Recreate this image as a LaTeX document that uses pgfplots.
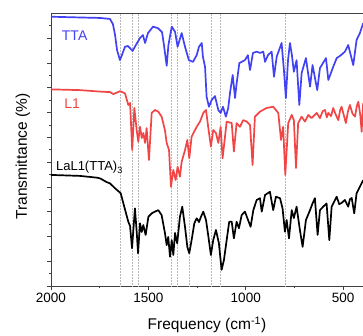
\documentclass[border=0pt]{standalone}
\usepackage{pgfplots}
\pgfplotsset{compat=1.18}
\usepackage{fontspec}
\setmainfont{Liberation Sans}
\definecolor{ttablue}{RGB}{66,66,245}
\definecolor{lred}{RGB}{242,70,70}
\begin{document}
\begin{tikzpicture}
\begin{axis}[
  scale only axis, width=312pt, height=273pt,
  x dir=reverse, xmin=398, xmax=2000, ymin=0, ymax=11.01,
  axis x line*=box, axis y line*=left,
  x axis line style={-, black!75}, y axis line style={-, black!75},
  xtick={2000,1500,1000,500}, minor xtick={1750,1250,750},
  ytick={0,1,...,10}, minor ytick={0.5,1.5,...,10.5},
  yticklabels={},
  xtick pos=bottom, ytick pos=left,
  tick align=outside,
  major tick length=3.5pt, minor tick length=2pt,
  every tick/.style={black!75, line width=0.6pt},
  /pgf/number format/assume math mode=true,
  /pgf/number format/1000 sep={},
  ticklabel style={font=\fontsize{13.5}{16}\selectfont},
  xlabel={Frequency (cm\textsuperscript{-1})},
  ylabel={Transmittance (\%)},
  xlabel style={font=\fontsize{15.5}{18}\selectfont, at={(axis description cs:0.5,-0.161)}, anchor=base},
  ylabel style={font=\fontsize{15.5}{18}\selectfont, at={(axis description cs:-0.077,0.474)}, anchor=base},
  clip=true,
]
% dotted guide lines
\addplot[ycomb, no marks, gray!55, line width=0.5pt, densely dotted] coordinates {
(1646,11.01) (1581,11.01) (1552,11.01) (1380,11.01) (1350,11.01) (1292,11.01) (1177,11.01) (1130,11.01) (795,11.01)};
% TTA
\addplot[ttablue, line width=1.7pt, no marks, line join=round] coordinates {
(2000,10.86) (1851,10.83) (1748,10.81) (1697,10.77) (1682,10.56) (1671,10.12) (1661,9.52) (1646,9.11) (1636,9.31) (1620,9.65) (1605,9.68) (1581,9.48) (1564,9.72) (1543,10.00) (1528,10.12) (1517,9.80) (1502,10.20) (1476,10.46) (1451,10.40) (1430,10.24) (1420,9.72) (1406,8.88) (1397,9.72) (1380,10.46) (1363,10.25) (1350,9.65) (1329,10.20) (1312,9.65) (1292,9.11) (1271,9.04) (1252,9.31) (1240,9.65) (1226,9.80) (1220,9.25) (1209,8.84) (1201,7.63) (1189,7.23) (1175,7.50) (1158,7.66) (1141,7.10) (1129,6.98) (1117,7.23) (1102,6.83) (1090,7.18) (1081,7.78) (1067,8.51) (1055,7.58) (1048,8.10) (1033,8.99) (1004,9.11) (989,9.31) (978,8.71) (963,9.40) (944,9.45) (927,9.40) (910,9.45) (901,9.04) (886,9.31) (867,9.45) (855,8.44) (841,9.25) (816,9.80) (804,8.71) (794,7.58) (783,9.11) (773,9.80) (763,9.31) (753,8.64) (739,9.11) (725,7.30) (713,8.59) (691,9.19) (670,8.04) (657,8.91) (633,7.90) (619,8.79) (588,9.19) (576,8.31) (551,8.84) (533,9.19) (511,9.31) (491,9.45) (474,9.72) (448,8.91) (431,9.92) (414,10.20) (397,10.60)};
% L1
\addplot[lred, line width=1.7pt, no marks, line join=round] coordinates {
(2000,7.93) (1851,7.90) (1748,7.84) (1697,7.82) (1680,7.74) (1656,7.82) (1646,7.86) (1620,7.77) (1603,7.30) (1594,7.38) (1583,5.48) (1572,7.18) (1560,6.29) (1552,5.82) (1543,6.42) (1534,5.97) (1526,6.17) (1517,5.77) (1509,6.37) (1497,5.08) (1483,6.98) (1466,7.10) (1449,7.03) (1432,6.83) (1415,6.29) (1406,5.77) (1394,5.48) (1384,4.00) (1372,4.68) (1360,4.27) (1350,4.81) (1338,4.41) (1329,5.01) (1312,5.48) (1300,5.89) (1290,5.15) (1278,6.02) (1252,6.42) (1235,6.63) (1218,6.98) (1204,7.10) (1193,6.42) (1179,5.62) (1167,6.29) (1153,6.17) (1141,5.77) (1129,6.42) (1119,5.15) (1098,6.63) (1072,6.57) (1061,5.42) (1047,6.57) (1030,6.42) (1013,6.69) (995,6.63) (978,6.49) (965,4.88) (953,6.83) (927,7.03) (893,7.18) (859,7.23) (833,6.98) (819,5.89) (808,6.42) (797,4.48) (782,6.57) (764,6.90) (753,6.69) (742,4.76) (731,6.57) (713,6.83) (696,6.63) (679,6.90) (662,6.77) (636,6.98) (619,6.77) (605,7.05) (593,7.10) (584,6.80) (576,6.98) (562,6.85) (551,7.18) (540,6.95) (525,6.69) (515,7.10) (508,7.23) (497,6.90) (486,6.57) (475,7.05) (465,7.30) (452,6.95) (439,6.83) (430,7.25) (422,7.43) (412,6.90) (405,6.22) (397,7.38)};
% LaL1(TTA)3
\addplot[black, line width=1.7pt, no marks, line join=round] coordinates {
(2000,4.48) (1851,4.44) (1765,4.37) (1748,4.34) (1714,4.19) (1697,4.14) (1671,3.94) (1642,3.74) (1629,3.35) (1615,2.94) (1603,2.59) (1594,2.42) (1584,1.52) (1569,3.13) (1560,2.19) (1553,1.32) (1543,2.53) (1534,2.18) (1526,2.46) (1514,2.06) (1500,2.79) (1483,2.93) (1466,3.00) (1449,3.06) (1432,2.86) (1415,2.14) (1406,1.65) (1398,1.98) (1389,1.18) (1380,1.85) (1372,1.25) (1363,2.14) (1352,1.72) (1338,2.79) (1326,3.20) (1312,2.39) (1300,1.58) (1290,1.32) (1278,1.85) (1264,2.53) (1252,2.73) (1240,2.58) (1230,2.79) (1218,3.00) (1204,2.66) (1193,2.06) (1179,1.25) (1167,1.85) (1153,2.26) (1138,1.73) (1124,0.65) (1112,1.05) (1098,1.85) (1085,2.59) (1072,2.59) (1061,1.92) (1047,2.59) (1035,2.33) (1021,2.86) (1004,3.00) (992,2.74) (975,2.39) (961,3.06) (944,3.47) (927,3.54) (918,3.00) (901,3.67) (876,3.80) (859,3.06) (845,3.60) (824,3.54) (811,3.13) (799,2.19) (790,2.66) (778,1.92) (764,3.06) (753,2.74) (739,3.20) (722,2.26) (708,1.58) (691,2.66) (670,3.06) (657,3.33) (645,3.54) (631,2.06) (619,3.06) (602,3.20) (585,3.33) (571,1.85) (559,3.20) (533,3.60) (520,3.30) (508,3.35) (491,3.47) (474,3.20) (465,3.50) (456,3.55) (443,2.93) (431,3.74) (414,4.00) (397,4.27)};
\node[anchor=base west, text=ttablue, font=\fontsize{14}{16}\selectfont] at (axis cs:1962,9.92) {TTA};
\node[anchor=base west, text=lred, font=\fontsize{14}{16}\selectfont] at (axis cs:1950,7.16) {L1};
\node[anchor=base west, text=black, font=\fontsize{13}{16}\selectfont] at (axis cs:1992,4.64) {LaL1(TTA)$_{\mathrm{3}}$};
\end{axis}
\pgfresetboundingbox
\path[use as bounding box] ([shift={(-51pt,-49pt)}]current axis.south west) rectangle ([shift={(0pt,13pt)}]current axis.north east);
\end{tikzpicture}
\end{document}
